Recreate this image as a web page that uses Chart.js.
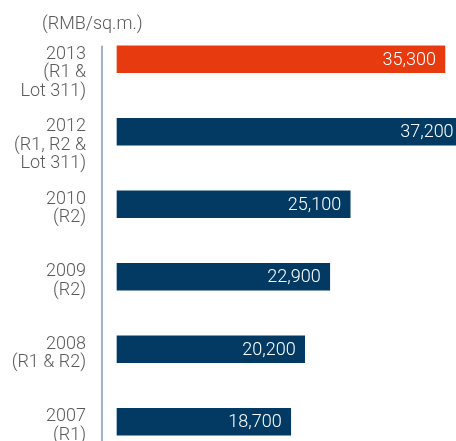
<!DOCTYPE html>
<html>
<head>
<meta charset="utf-8">
<script src="https://cdn.jsdelivr.net/npm/chart.js@4.4.0/dist/chart.umd.min.js"></script>
<style>
  html, body { margin: 0; padding: 0; background: #fff; overflow: hidden; }
  #wrap { position: relative; width: 456px; height: 460px; }
  #unit { position: absolute; left: 42px; top: 12px; font: 300 18px Roboto, "Liberation Sans", sans-serif; color: #5a5a5a; }
</style>
</head>
<body>
<div id="wrap">
  <div id="unit">(RMB/sq.m.)</div>
  <canvas id="priceChart" width="456" height="460"></canvas>
</div>
<script>
// tick labels (each line separate; blank line keeps first lines level with the bar top)
let years = [
  ['2013', '(R1 &', 'Lot 311)'],
  ['2012', '(R1, R2 &', 'Lot 311)'],
  ['2010', '(R2)', ''],
  ['2009', '(R2)', ''],
  ['2008', '(R1 & R2)', ''],
  ['2007', '(R1)', '']
]
let prices = [35300, 37200, 25100, 22900, 20200, 18700]
let barColors = ['#E73A0E', '#033A63', '#033A63', '#033A63', '#033A63', '#033A63']

let fontFamily = 'Roboto, "Liberation Sans", sans-serif'

// white value label at the end of every bar
let valueLabels = {
  id: 'valueLabels',
  afterDatasetsDraw(chart) {
    let ctx = chart.ctx
    let meta = chart.getDatasetMeta(0)
    ctx.save()
    ctx.font = '300 18px ' + fontFamily
    ctx.fillStyle = '#ffffff'
    ctx.textAlign = 'right'
    ctx.textBaseline = 'middle'
    meta.data.forEach((bar, i) => {
      ctx.fillText(prices[i].toLocaleString('en-US'), bar.x - 9, bar.y + 1)
    })
    ctx.restore()
  }
}

// vertical axis line, starting at the top of the first bar
let axisLine = {
  id: 'axisLine',
  afterDraw(chart) {
    let ctx = chart.ctx
    let first = chart.getDatasetMeta(0).data[0]
    let x = chart.chartArea.left
    ctx.save()
    ctx.strokeStyle = '#8199B0'
    ctx.lineWidth = 1.5
    ctx.beginPath()
    ctx.moveTo(x, first.y - first.height / 2)
    ctx.lineTo(x, chart.height)
    ctx.stroke()
    ctx.restore()
  }
}

let priceChart = document.getElementById('priceChart').getContext('2d')
let chart = new Chart(priceChart, {
  type: 'bar',
  data: {
    labels: years,
    datasets: [{
      label: 'RMB/sq.m.',
      data: prices,
      backgroundColor: barColors,
      barThickness: 27
    }]
  },
  options: {
    indexAxis: 'y',
    responsive: false,
    animation: false,
    layout: { padding: { top: 23, bottom: 2, left: 0, right: 0 } },
    plugins: {
      legend: { display: false },
      tooltip: { enabled: false }
    },
    scales: {
      x: {
        display: false,
        min: -1615,
        max: 36490
      },
      y: {
        grid: { display: false, drawTicks: false, tickLength: 0 },
        border: { display: false },
        afterFit(scale) {
          scale.width = 102
          scale.paddingTop = 0
          scale.paddingBottom = 0
        },
        ticks: {
          padding: 16,
          labelOffset: 13.5,
          color: '#5a5a5a',
          font: { family: fontFamily, size: 18, weight: '300', lineHeight: 1.02 }
        }
      }
    }
  },
  plugins: [valueLabels, axisLine]
})
</script>
</body>
</html>
